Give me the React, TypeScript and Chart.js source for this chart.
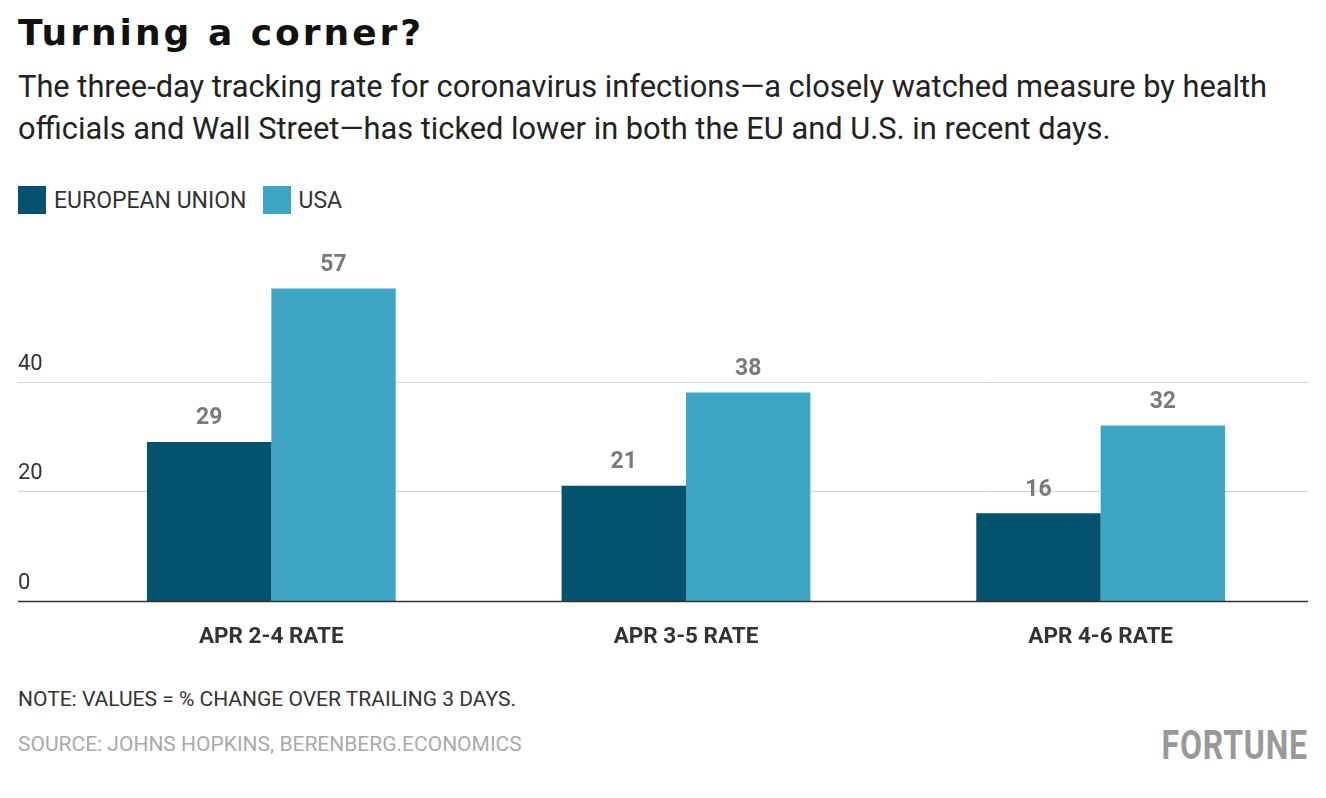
import React, { useEffect, useRef } from "react";
import { Chart, registerables } from "chart.js";
Chart.register(...registerables);

const categories = ["APR 2-4 RATE", "APR 3-5 RATE", "APR 4-6 RATE"];
const euValues = [29, 21, 16];
const usaValues = [57, 38, 32];
const yTicks = [0, 20, 40];

const EU = "#03536e";
const US = "#3ea6c4";

const overlay = {
  id: "overlay",
  beforeDatasetsDraw(chart: any) {
    const { ctx, chartArea, scales } = chart;
    const y = scales.y;
    ctx.save();
    yTicks.forEach((t) => {
      const py = Math.round(y.getPixelForValue(t)) + 0.5;
      if (t !== 0) {
        ctx.strokeStyle = "#d4d4d4";
        ctx.lineWidth = 1;
        ctx.beginPath();
        ctx.moveTo(18, py);
        ctx.lineTo(chartArea.right, py);
        ctx.stroke();
      }
      ctx.fillStyle = "#333";
      ctx.font = "22px Roboto";
      ctx.textAlign = "left";
      ctx.textBaseline = "bottom";
      ctx.fillText(String(t), 18, py - 7);
    });
    ctx.restore();
  },
  afterDatasetsDraw(chart: any) {
    const { ctx, chartArea, scales } = chart;
    const py = Math.round(scales.y.getPixelForValue(0)) + 0.5;
    ctx.save();
    ctx.strokeStyle = "#333";
    ctx.lineWidth = 1.5;
    ctx.beginPath();
    ctx.moveTo(18, py);
    ctx.lineTo(chartArea.right, py);
    ctx.stroke();
    ctx.fillStyle = "#7a7a7a";
    ctx.font = "bold 23px Roboto";
    ctx.textAlign = "center";
    ctx.textBaseline = "bottom";
    chart.data.datasets.forEach((ds: any, i: number) => {
      chart.getDatasetMeta(i).data.forEach((bar: any, j: number) => {
        ctx.fillText(String(ds.data[j]), bar.x, bar.y - 12);
      });
    });
    ctx.restore();
  },
};

export default function App() {
  const ref = useRef<HTMLCanvasElement>(null);
  useEffect(() => {
    const chart = new Chart(ref.current!, {
      type: "bar",
      data: {
        labels: categories,
        datasets: [
          { label: "EUROPEAN UNION", data: euValues, backgroundColor: EU },
          { label: "USA", data: usaValues, backgroundColor: US },
        ],
      },
      options: {
        animation: false,
        responsive: false,
        layout: { padding: { left: 64, right: 18, top: 10, bottom: 0 } },
        plugins: { legend: { display: false }, tooltip: { enabled: false } },
        datasets: { bar: { categoryPercentage: 0.6, barPercentage: 1 } },
        scales: {
          x: {
            grid: { display: false, drawTicks: false },
            border: { display: false },
            ticks: { color: "#333", padding: 23, font: { family: "Roboto", size: 22.5, weight: "bold" } },
          },
          y: { display: false, min: 0, max: 64 },
        },
      },
      plugins: [overlay],
    });
    return () => chart.destroy();
  }, []);

  const sq = (c: string) => ({ display: "inline-block", width: 28, height: 28, background: c, marginRight: 8, verticalAlign: "middle" });
  return (
    <div style={{ position: "absolute", left: 0, top: 0, width: 1326, height: 798, background: "#fff", fontFamily: "Roboto, sans-serif", overflow: "hidden" }}>
      <div style={{ position: "absolute", left: 18, top: 12, fontFamily: "DejaVu Sans", fontWeight: 900, fontSize: 36, letterSpacing: 3, color: "#111" }}>Turning a corner?</div>
      <div style={{ position: "absolute", left: 18, top: 66, width: 1300, fontSize: 30.8, lineHeight: "42px", color: "#222" }}>
        The three-day tracking rate for coronavirus infections—a closely watched measure by health officials and Wall Street—has ticked lower in both the EU and U.S. in recent days.
      </div>
      <div style={{ position: "absolute", left: 18, top: 186, fontSize: 23, color: "#333", display: "flex", alignItems: "center" }}>
        <span style={sq(EU)} />EUROPEAN UNION<span style={{ ...sq(US), marginLeft: 16 }} />USA
      </div>
      <canvas ref={ref} width={1326} height={434} style={{ position: "absolute", left: 0, top: 240 }} />
      <div style={{ position: "absolute", left: 18, top: 687, fontSize: 21, color: "#333" }}>NOTE: VALUES = % CHANGE OVER TRAILING 3 DAYS.</div>
      <div style={{ position: "absolute", left: 18, top: 732, fontSize: 21, color: "#aaa" }}>SOURCE: JOHNS HOPKINS, BERENBERG.ECONOMICS</div>
      <div style={{ position: "absolute", right: 18, top: 722, fontSize: 40, fontWeight: 700, color: "#999", letterSpacing: 1, transform: "scaleX(0.8)", transformOrigin: "right" }}>FORTUNE</div>
    </div>
  );
}
